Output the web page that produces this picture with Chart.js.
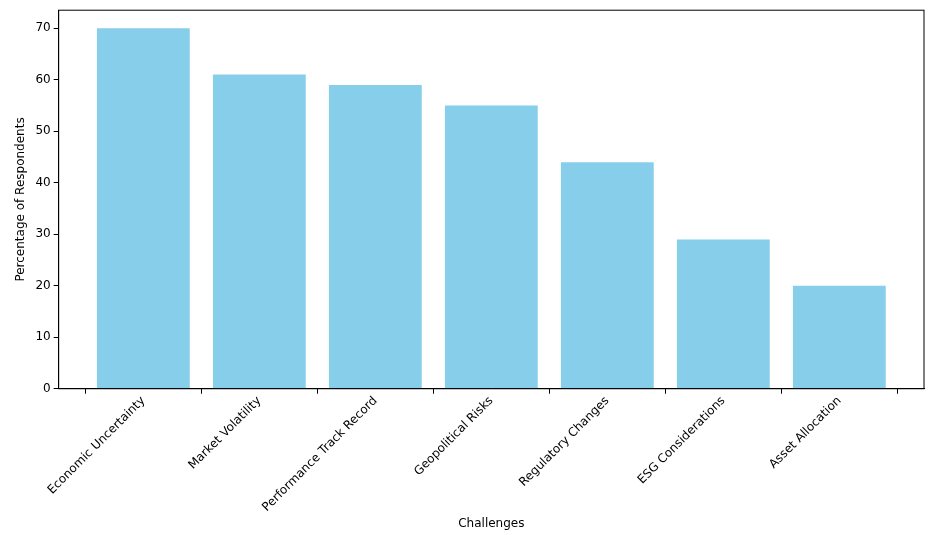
<!DOCTYPE html>
<html>
<head>
<meta charset="utf-8">
<script src="https://cdn.jsdelivr.net/npm/chart.js@4"></script>
<style>
  html, body { margin: 0; padding: 0; background: #fff; }
  #wrap { width: 938px; height: 535px; }
</style>
</head>
<body>
<div id="wrap"><canvas id="chart" width="938" height="535"></canvas></div>
<script>
const categories = ['Economic Uncertainty', 'Market Volatility', 'Performance Track Record',
  'Geopolitical Risks', 'Regulatory Changes', 'ESG Considerations', 'Asset Allocation'];
const percentages = [70, 61, 59, 55, 44, 29, 20];
const yTicks = [0, 10, 20, 30, 40, 50, 60, 70];

const font = { family: 'DejaVu Sans', size: 12 };
Chart.defaults.color = '#000';

// outer frame like matplotlib axes box
const frame = {
  id: 'frame',
  afterDraw(chart) {
    const { ctx, chartArea: a } = chart;
    ctx.save();
    ctx.strokeStyle = '#000';
    ctx.lineWidth = 1;
    ctx.strokeRect(a.left, a.top, a.right - a.left, a.bottom - a.top);
    ctx.restore();
  },
};

new Chart(document.getElementById('chart'), {
  type: 'bar',
  data: {
    datasets: [{
      data: categories.map((c, i) => ({ x: i, y: percentages[i] })),
      backgroundColor: '#87ceeb',
      barPercentage: 0.8,
      categoryPercentage: 1,
    }],
  },
  plugins: [frame],
  options: {
    responsive: false,
    animation: false,
    layout: { padding: { left: 10, right: 14, top: 2, bottom: 0 } },
    plugins: { legend: { display: false }, tooltip: { enabled: false } },
    scales: {
      x: {
        type: 'linear',
        offset: false,
        min: -0.73,
        max: 6.73,
        afterBuildTicks: axis => { axis.ticks = categories.map((c, i) => ({ value: i })); },
        ticks: {
          font, autoSkip: false, maxRotation: 45, minRotation: 45, padding: 0,
          callback: v => categories[v] ?? '',
        },
        grid: { drawOnChartArea: false, tickLength: 5, color: '#000' },
        border: { color: '#000' },
        title: { display: true, text: 'Challenges', font, padding: { top: 2, bottom: 4 } },
      },
      y: {
        min: 0,
        max: 73.5,
        afterBuildTicks: axis => { axis.ticks = yTicks.map(v => ({ value: v })); },
        ticks: { font },
        grid: { drawOnChartArea: false, tickLength: 5, color: '#000' },
        border: { color: '#000' },
        title: { display: true, text: 'Percentage of Respondents', font },
      },
    },
  },
});
</script>
</body>
</html>
